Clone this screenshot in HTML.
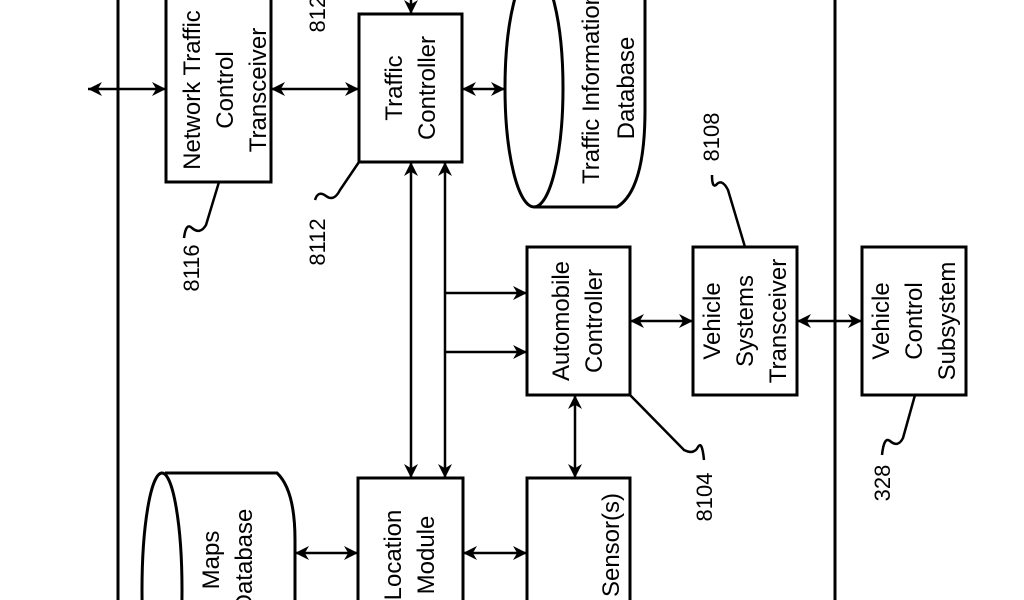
<!DOCTYPE html>
<html><head><meta charset="utf-8"><style>
html,body{margin:0;padding:0;background:#fff;width:1024px;height:600px;overflow:hidden}
svg{display:block}
text{font-family:"Liberation Sans",sans-serif;font-size:24px;fill:#000;text-anchor:middle}
.n{font-size:22px}
</style></head><body>
<svg width="1024" height="600" viewBox="0 0 1024 600" overflow="hidden">
<defs>
<marker id="b" viewBox="0 0 10 10" refX="10" refY="5" markerWidth="14" markerHeight="14" orient="auto-start-reverse" markerUnits="userSpaceOnUse"><path d="M0,0 L10,5 L0,10 L3,5 z" fill="#000"/></marker>
</defs>
<g fill="none" stroke="#000" stroke-width="3">
<line x1="118" y1="0" x2="118" y2="600"/>
<line x1="835" y1="0" x2="835" y2="600"/>
<rect x="166" y="-5" width="105" height="187"/>
<rect x="359" y="14" width="103" height="148"/>
<rect x="527" y="247" width="103" height="148"/>
<rect x="693" y="247" width="104" height="148"/>
<rect x="862" y="247" width="104" height="148"/>
<rect x="358" y="478" width="105" height="125"/>
<rect x="527" y="478" width="103" height="125"/>
<ellipse cx="534" cy="88" rx="29" ry="119"/>
<path d="M534,207 L617,207 Q645,190 645,110 L645,-10"/>
<ellipse cx="162" cy="590" rx="20" ry="117"/>
<path d="M165,473 L277,473 Q295,490 295,540 L295,605"/>
<g marker-start="url(#b)" marker-end="url(#b)" stroke-width="2.5">
<line x1="88" y1="89" x2="166" y2="89"/>
<line x1="271" y1="89" x2="359" y2="89"/>
<line x1="462" y1="89" x2="505" y2="89"/>
<line x1="411" y1="162" x2="411" y2="478"/>
<line x1="445" y1="162" x2="445" y2="478"/>
<line x1="630" y1="321" x2="693" y2="321"/>
<line x1="797" y1="321" x2="862" y2="321"/>
<line x1="575" y1="395" x2="575" y2="478"/>
<line x1="295" y1="553" x2="358" y2="553"/>
<line x1="463" y1="553" x2="527" y2="553"/>
</g>
<g marker-end="url(#b)" stroke-width="2.5">
<line x1="411" y1="0" x2="411" y2="14"/>
<polyline points="445,293 527,293"/>
<polyline points="445,352 527,352"/>
</g>
<g stroke-width="2.5">
<path d="M219,182 L206,225 Q200,235 192,228 Q186,222 184,238"/>
<path d="M359,162 L340,190 Q334,202 326,196 Q318,190 315,200"/>
<path d="M745,247 L728,190 Q722,178 716,185 Q712,188 712,175"/>
<path d="M630,395 L684,450 Q694,455 698,447 Q702,440 704,460"/>
<path d="M915,395 L903,438 Q898,448 890,441 Q884,436 882,455"/>
</g>
</g>
<g>
<g transform="rotate(-90 218 90)"><text x="218" y="72">Network Traffic</text><text x="218" y="105">Control</text><text x="218" y="138">Transceiver</text></g>
<g transform="rotate(-90 410 88)"><text x="410" y="80">Traffic</text><text x="410" y="113">Controller</text></g>
<g transform="rotate(-90 597 88)"><text x="597" y="90">Traffic Information</text><text x="597" y="125">Database</text></g>
<g transform="rotate(-90 578 321)"><text x="578" y="312">Automobile</text><text x="578" y="345">Controller</text></g>
<g transform="rotate(-90 745 321)"><text x="745" y="296">Vehicle</text><text x="745" y="329">Systems</text><text x="745" y="362">Transceiver</text></g>
<g transform="rotate(-90 914 321)"><text x="914" y="296">Vehicle</text><text x="914" y="329">Control</text><text x="914" y="362">Subsystem</text></g>
<g transform="rotate(-90 410 555)"><text x="410" y="546">Location</text><text x="410" y="579">Module</text></g>
<g transform="rotate(-90 578 545)"><text x="578" y="586">Sensor(s)</text></g>
<g transform="rotate(-90 228 560)"><text x="228" y="551">Maps</text><text x="228" y="584">Database</text></g>
<text class="n" transform="rotate(-90 192 268)" x="192" y="275">8116</text>
<text class="n" transform="rotate(-90 318 242)" x="318" y="249">8112</text>
<text class="n" transform="rotate(-90 318 8)" x="318" y="15">8120</text>
<text class="n" transform="rotate(-90 712 137)" x="712" y="144">8108</text>
<text class="n" transform="rotate(-90 705 497)" x="705" y="504">8104</text>
<text class="n" transform="rotate(-90 883 483)" x="883" y="490">328</text>
</g>
</svg>
</body></html>
